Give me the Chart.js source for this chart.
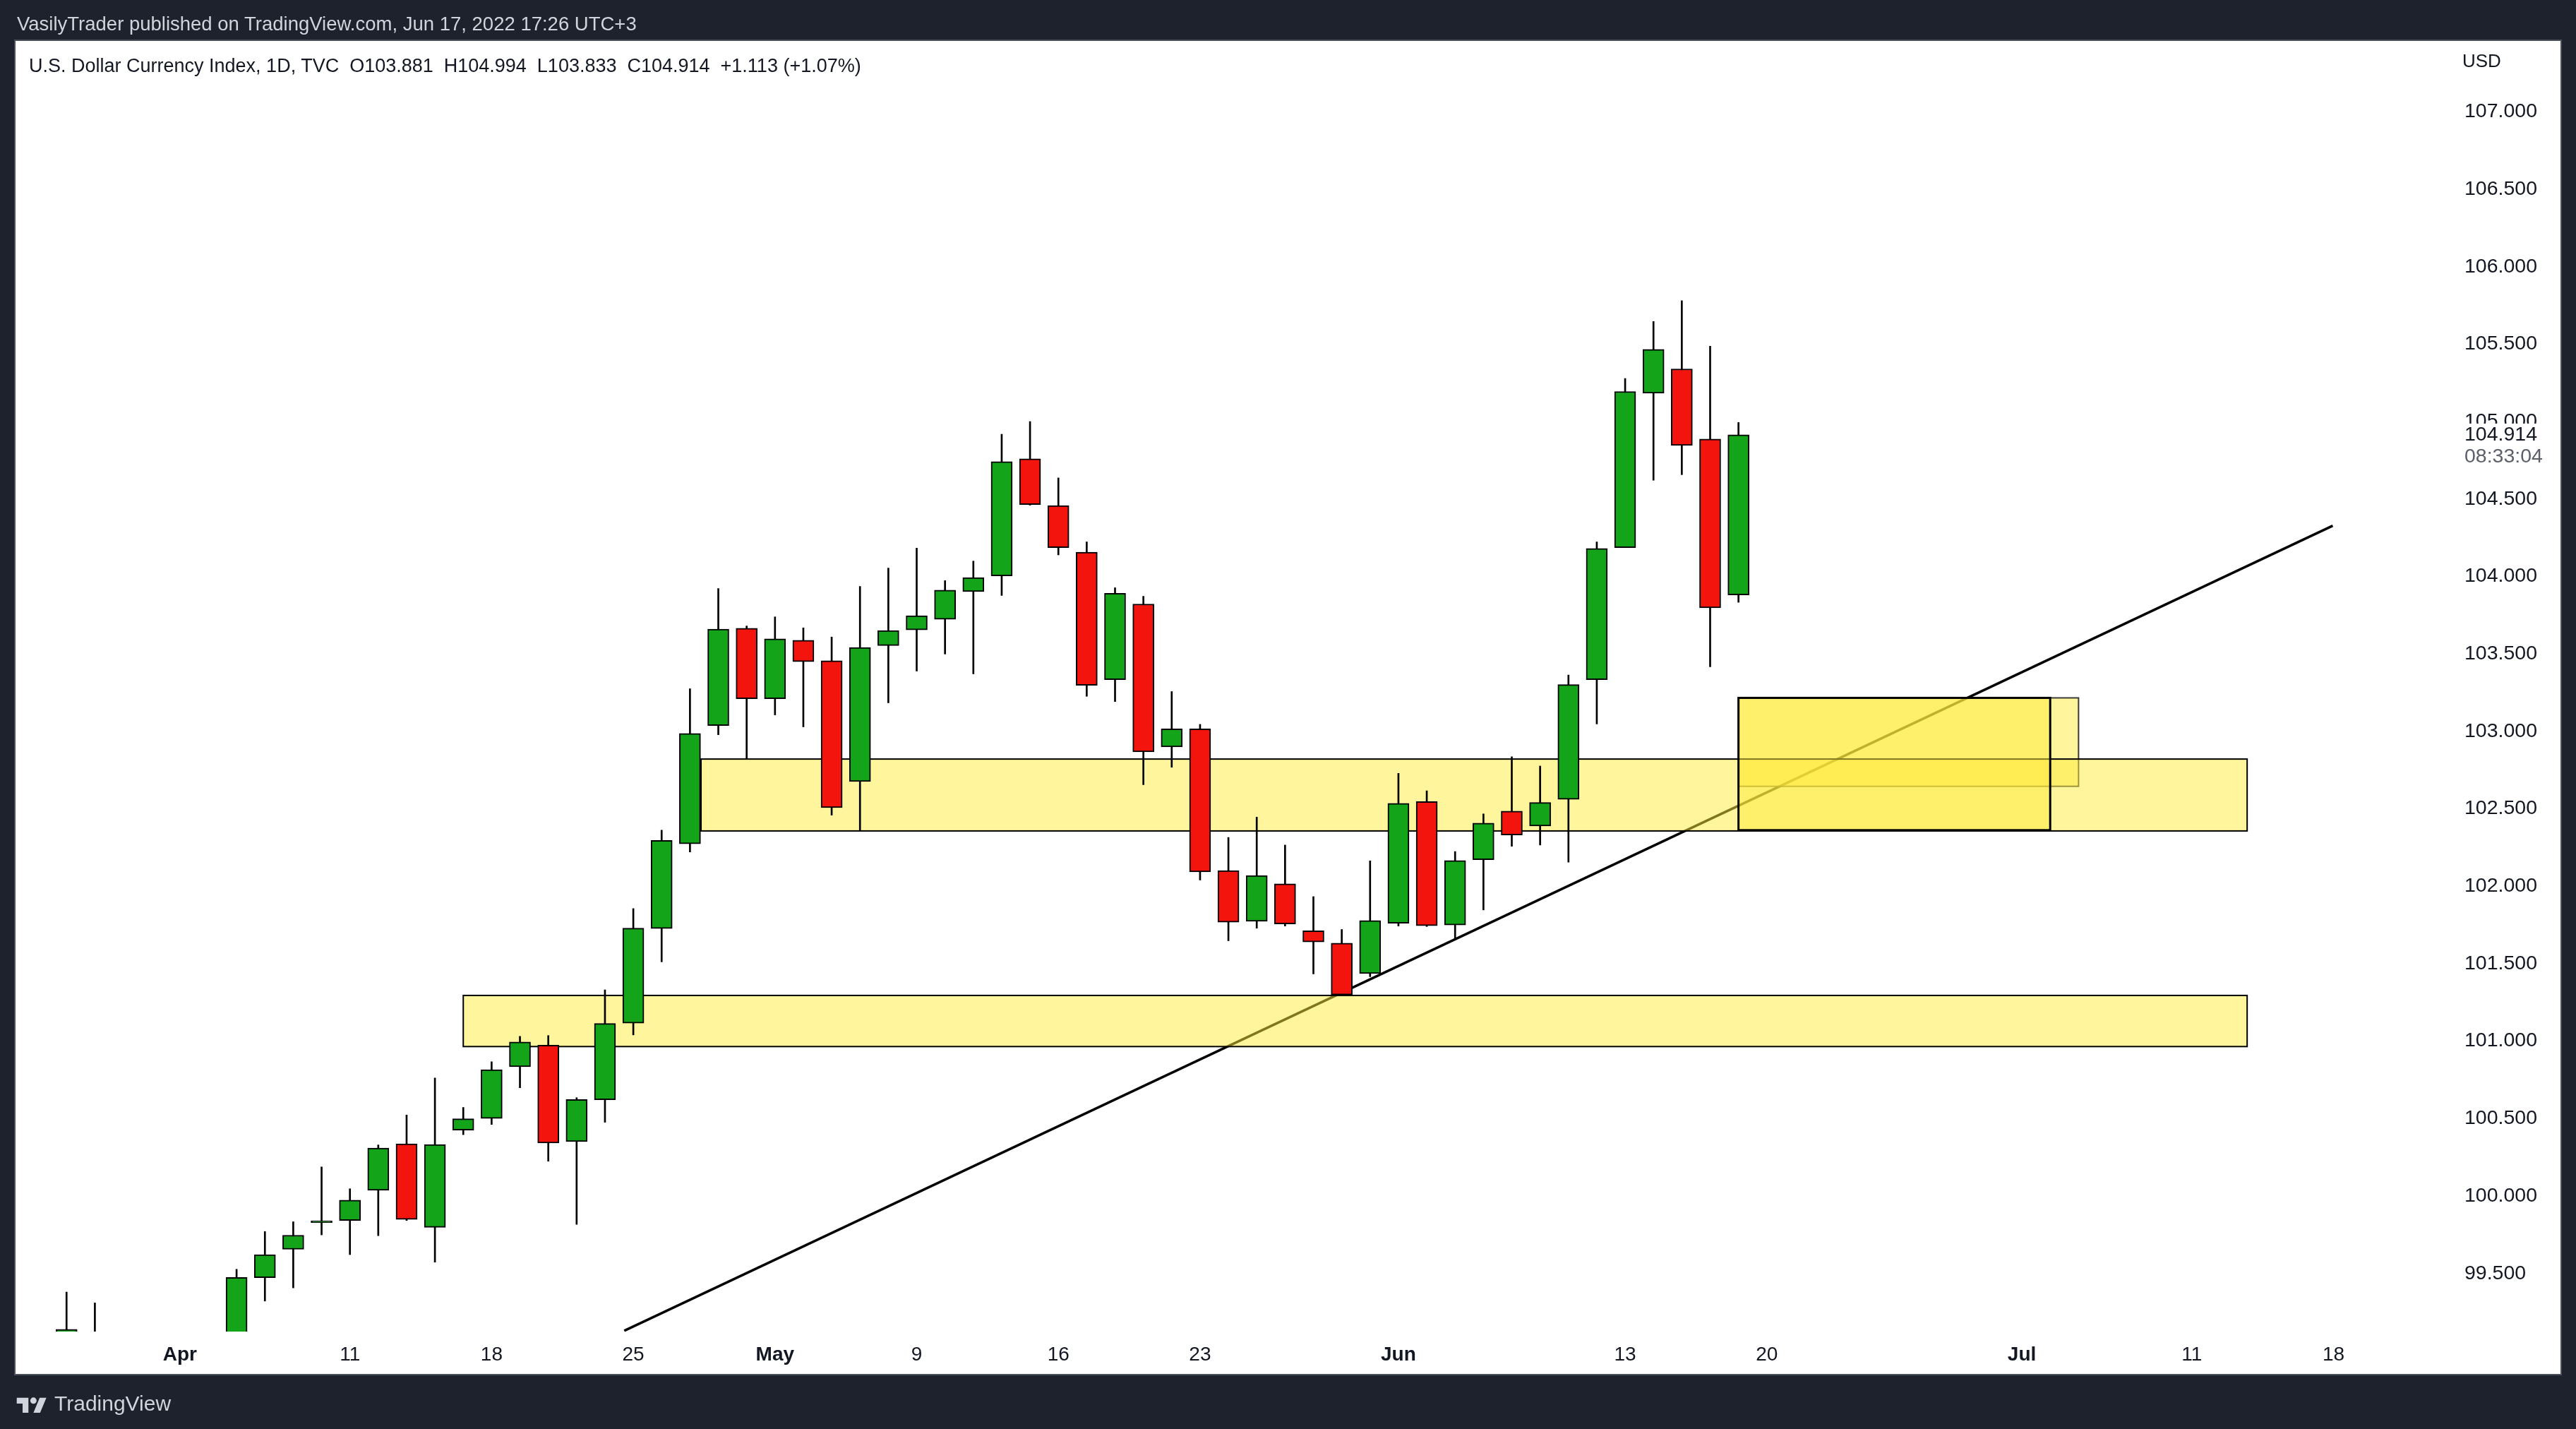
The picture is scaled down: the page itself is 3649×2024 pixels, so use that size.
<!DOCTYPE html>
<html>
<head>
<meta charset="utf-8">
<script src="https://cdn.jsdelivr.net/npm/chart.js@4.4.1/dist/chart.umd.min.js"></script>
<style>
html,body{margin:0;padding:0;background:#1e222d;width:3649px;height:2024px;overflow:hidden;font-family:"Liberation Sans",Arial,sans-serif;}
#panel{position:absolute;left:22px;top:58px;width:3605px;height:1888px;background:#ffffff;box-shadow:0 0 0 2px #4c505b;}
#c{position:absolute;left:0;top:0;}
#hdr{position:absolute;left:24px;top:18px;font-size:27.5px;color:#d1d4dc;white-space:pre;line-height:32px;}
#legend{position:absolute;left:41px;top:77px;font-size:27px;color:#131722;white-space:pre;line-height:32px;}
#footer{position:absolute;left:23px;top:1972px;height:32px;display:flex;align-items:center;color:#d1d4dc;font-size:30px;}
#footer svg{margin-right:10px;}
</style>
</head>
<body>
<div id="panel"></div>
<canvas id="c" width="3649" height="2024"></canvas>
<div id="hdr">VasilyTrader published on TradingView.com, Jun 17, 2022 17:26 UTC+3</div>
<div id="legend">U.S. Dollar Currency Index, 1D, TVC  O103.881  H104.994  L103.833  C104.914  +1.113 (+1.07%)</div>
<div id="footer"><svg width="44" height="26" viewBox="0 0 36 22"><path d="M14 22H7V11H0V4h14v18zM28 22h-8l7.5-18h8L28 22z" fill="#d1d4dc"/><circle cx="20" cy="7.5" r="3.8" fill="#d1d4dc"/></svg><span>TradingView</span></div>
<script>
// ---- data (daily bars, index 0 = Mar 28 2022) ----
const dates = ["2022-03-28","2022-03-29","2022-03-30","2022-03-31","2022-04-01","2022-04-04","2022-04-05","2022-04-06","2022-04-07","2022-04-08",
"2022-04-11","2022-04-12","2022-04-13","2022-04-14","2022-04-15","2022-04-18","2022-04-19","2022-04-20","2022-04-21","2022-04-22",
"2022-04-25","2022-04-26","2022-04-27","2022-04-28","2022-04-29","2022-05-02","2022-05-03","2022-05-04","2022-05-05","2022-05-06",
"2022-05-09","2022-05-10","2022-05-11","2022-05-12","2022-05-13","2022-05-16","2022-05-17","2022-05-18","2022-05-19","2022-05-20",
"2022-05-23","2022-05-24","2022-05-25","2022-05-26","2022-05-27","2022-05-30","2022-05-31","2022-06-01","2022-06-02","2022-06-03",
"2022-06-06","2022-06-07","2022-06-08","2022-06-09","2022-06-10","2022-06-13","2022-06-14","2022-06-15","2022-06-16","2022-06-17"];
const opens = [98.75,99.05,98.40,97.85,98.30,98.60,99.00,99.473,99.656,99.828,
99.842,100.037,100.337,99.798,100.425,100.501,100.835,100.974,100.352,100.621,
101.116,101.727,102.274,103.037,103.666,103.210,103.588,103.456,102.676,103.554,
103.655,103.723,103.902,104.003,104.759,104.458,104.157,103.333,103.822,102.899,
103.016,102.101,101.774,102.015,101.713,101.633,101.436,101.761,102.546,101.750,
102.171,102.485,102.389,102.561,103.333,104.186,105.183,105.340,104.887,103.881];
const highs = [99.38,99.31,98.55,98.40,98.75,99.05,99.527,99.771,99.834,100.188,
100.047,100.330,100.523,100.762,100.572,100.867,101.031,101.036,100.635,101.331,
101.856,102.362,103.275,103.922,103.680,103.739,103.668,103.609,103.936,104.054,
104.183,103.973,104.099,104.918,105.000,104.636,104.223,103.927,103.872,103.257,
103.045,102.315,102.446,102.266,101.933,101.721,102.164,102.729,102.616,102.224,
102.467,102.836,102.776,103.364,104.223,105.278,105.646,105.780,105.487,104.994];
const lows = [98.72,98.17,97.70,97.70,98.25,98.55,98.93,99.322,99.407,99.749,
99.622,99.744,99.842,99.573,100.396,100.462,100.699,100.225,99.817,100.476,
101.040,101.512,102.221,102.978,102.824,103.106,103.029,102.459,102.357,103.184,
103.389,103.499,103.371,103.877,104.460,104.139,103.226,103.192,102.655,102.768,
102.040,101.648,101.729,101.743,101.434,101.298,101.416,101.743,101.740,101.656,
101.847,102.258,102.266,102.155,103.048,104.186,104.621,104.657,103.417,103.833];
const closes = [99.14,98.40,97.85,98.30,98.60,99.00,99.475,99.622,99.747,99.840,
99.974,100.310,99.849,100.332,100.499,100.816,100.994,100.342,100.623,101.114,
101.729,102.296,102.986,103.660,103.210,103.597,103.450,102.507,103.541,103.651,
103.747,103.912,103.993,104.741,104.464,104.186,103.297,103.891,102.867,103.016,
102.093,101.768,102.069,101.756,101.640,101.298,101.779,102.535,101.745,102.166,
102.407,102.331,102.541,103.302,104.181,105.194,105.466,104.846,103.797,104.914];

// time-axis labels (bar index -> text)
const timeTickIndex = [4,10,15,20,25,30,35,40,47,55,60,69,75,80];
const timeTickLabels = ["Apr","11","18","25","May","9","16","23","Jun","13","20","Jul","11","18"];
const monthLabels = ["Apr","May","Jun","Jul"];
// price-axis labels
const priceTicks = [99.5,100,100.5,101,101.5,102,102.5,103,103.5,104,104.5,105,105.5,106,106.5,107];

// drawings (bar index / price)
const trendIndex = [19.68, 79.97];
const trendPrice = [99.13, 104.327];
const boxFrom   = [59.0, 14.0, 22.39, 59.0];
const boxTo     = [71.0, 76.95, 76.95, 70.0];
const boxTop    = [103.216, 101.295, 102.821, 103.216];
const boxBottom = [102.645, 100.965, 102.357, 102.362];
const lastPrice = 104.914;
const countdown = "08:33:04";

// ---- styles ----
const UP = '#13a41a', DOWN = '#f4140e';
const FONT = '"Liberation Sans", Arial, sans-serif';
const boxStroke = ['rgba(40,40,40,0.9)', '#000', '#000', '#000'];
const boxStrokeW = [2, 2, 2, 3];
const boxFill = 'rgba(255,235,59,0.5)';

const overlay = {
  id: 'overlay',
  beforeDatasetDraw(chart, args) {
    if (args.index !== 1) return; // after trend line, before wicks/bodies
    const {ctx, chartArea: a, scales: {x, y}} = chart;
    ctx.save();
    ctx.beginPath(); ctx.rect(a.left, a.top, a.right - a.left, a.bottom - a.top); ctx.clip();
    for (let i = 0; i < boxFrom.length; i++) {
      const x0 = x.getPixelForValue(boxFrom[i]), x1 = x.getPixelForValue(boxTo[i]);
      const y0 = y.getPixelForValue(boxTop[i]), y1 = y.getPixelForValue(boxBottom[i]);
      ctx.fillStyle = boxFill;
      ctx.fillRect(x0, y0, x1 - x0, y1 - y0);
      ctx.strokeStyle = boxStroke[i];
      ctx.lineWidth = boxStrokeW[i];
      ctx.strokeRect(x0, y0, x1 - x0, y1 - y0);
    }
    ctx.restore();
  },
  afterDraw(chart) {
    const {ctx, chartArea: a, scales: {y}} = chart;
    ctx.save();
    const py = y.getPixelForValue(lastPrice);
    ctx.fillStyle = '#ffffff';
    ctx.fillRect(a.right + 1, py - 16, 150, 62);
    ctx.font = '28.5px ' + FONT;
    ctx.textAlign = 'left';
    ctx.textBaseline = 'middle';
    ctx.fillStyle = '#131722';
    ctx.fillText(lastPrice.toFixed(3), a.right + 16, py);
    ctx.fillStyle = '#5d606b';
    ctx.fillText(countdown, a.right + 16, py + 31);
    ctx.fillStyle = '#131722';
    ctx.font = '26px ' + FONT;
    ctx.fillText('USD', a.right + 13, 88);
    ctx.restore();
  }
};

const ctx = document.getElementById('c').getContext('2d');
new Chart(ctx, {
  type: 'bar',
  data: {
    datasets: [
      {
        label: 'body',
        data: dates.map((d, i) => ({x: i, y: [opens[i], closes[i]]})),
        backgroundColor: c => (closes[c.dataIndex] >= opens[c.dataIndex] ? UP : DOWN),
        borderColor: '#000', borderWidth: 2, borderSkipped: false,
        barThickness: 30, grouped: false
      },
      {
        label: 'wick',
        data: dates.map((d, i) => ({x: i, y: [lows[i], highs[i]]})),
        backgroundColor: '#000', borderWidth: 0,
        barThickness: 2, grouped: false
      },
      {
        type: 'line', label: 'trend',
        data: trendIndex.map((v, i) => ({x: v, y: trendPrice[i]})),
        borderColor: '#000', borderWidth: 3.5, pointRadius: 0, fill: false, tension: 0
      }
    ]
  },
  options: {
    responsive: false, animation: false, devicePixelRatio: 1,
    layout: {padding: {left: 22, top: 58, right: 22, bottom: 78}},
    plugins: {legend: {display: false}, tooltip: {enabled: false}, title: {display: false}},
    scales: {
      x: {
        type: 'linear', min: -1.8, max: 84.22, offset: false,
        grid: {display: false, drawTicks: false, offset: false}, border: {display: false},
        afterFit(s) { s.height = 60; },
        afterBuildTicks(s) { s.ticks = timeTickIndex.map(v => ({value: v})); },
        ticks: {
          autoSkip: false, maxRotation: 0, padding: 16, color: '#131722',
          callback: v => timeTickLabels[timeTickIndex.indexOf(v)],
          font: c => ({family: FONT, size: 28,
            weight: (c.tick && monthLabels.includes(timeTickLabels[timeTickIndex.indexOf(c.tick.value)])) ? 'bold' : 'normal'})
        }
      },
      y: {
        type: 'linear', position: 'right', min: 99.125, max: 107.457,
        grid: {display: false, drawTicks: false}, border: {display: false},
        afterFit(s) { s.width = 152; },
        afterBuildTicks(s) { s.ticks = priceTicks.map(v => ({value: v})); },
        ticks: {padding: 16, color: '#131722', font: {family: FONT, size: 28.5},
          callback: v => Number(v).toFixed(3)}
      }
    }
  },
  plugins: [overlay]
});
</script>
</body>
</html>
